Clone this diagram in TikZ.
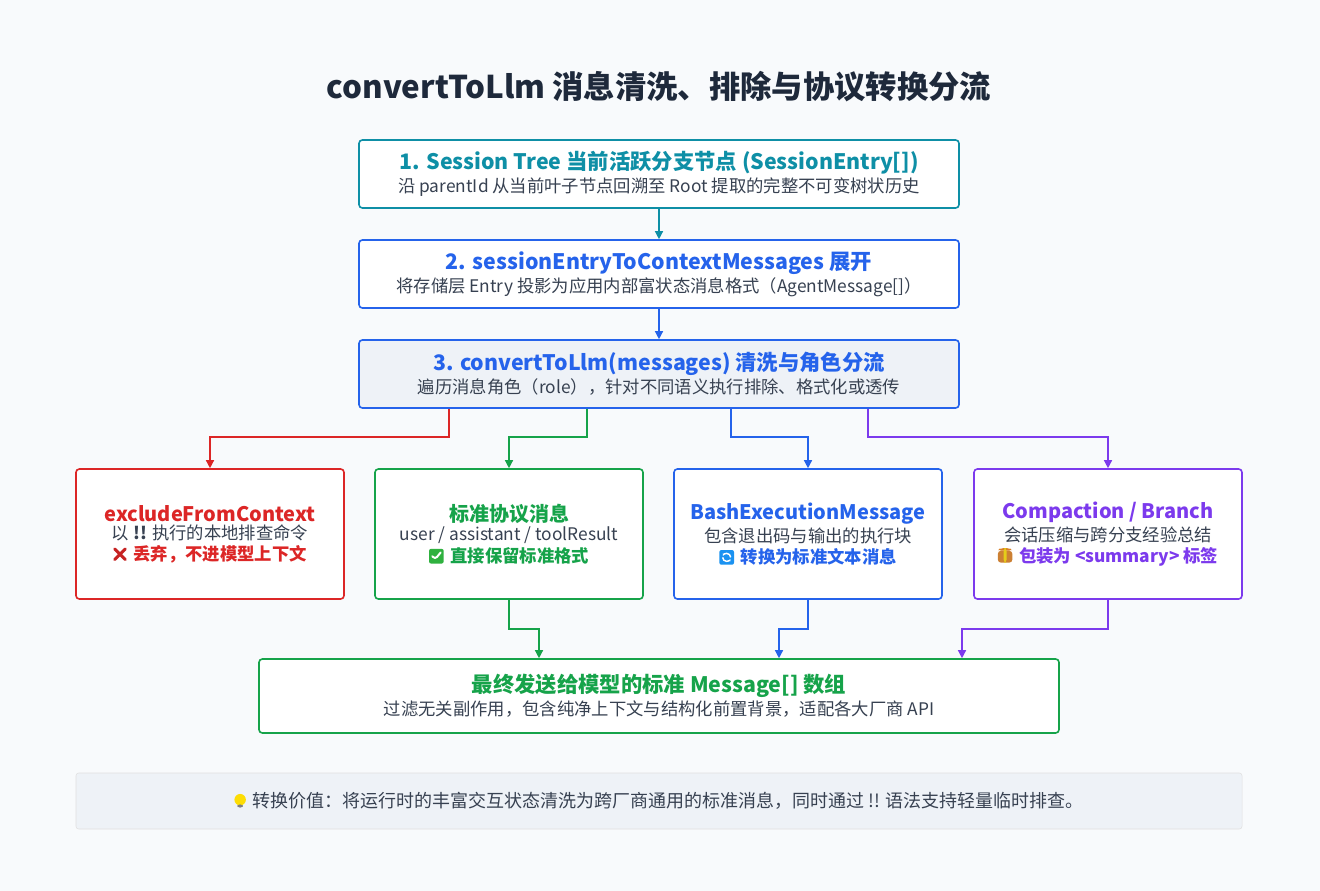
\documentclass[tikz,border=0pt]{standalone}
\usepackage{fontspec}
\setmainfont{Noto Sans CJK SC}
\usetikzlibrary{arrows.meta}
\definecolor{bg}{HTML}{F8FAFC}
\definecolor{teal}{HTML}{0E8FA6}
\definecolor{blu}{HTML}{2563EB}
\definecolor{red}{HTML}{DC2626}
\definecolor{grn}{HTML}{16A34A}
\definecolor{pur}{HTML}{7C3AED}
\definecolor{txt}{HTML}{374151}
\definecolor{ttl}{HTML}{1E293B}
\definecolor{pale}{HTML}{EEF2F7}
\newcommand{\crossicon}{\tikz[baseline=-4.5pt,x=1pt,y=1pt]{\draw[red!90!black,line width=2.2pt,line cap=round](-4,-4)--(4,4)(-4,4)--(4,-4);}\hspace{5pt}}
\newcommand{\checkicon}{\tikz[baseline=-4.5pt,x=1pt,y=1pt]{\fill[grn!85!lime,rounded corners=1.5pt](-5.5,-5.5) rectangle (5.5,5.5);\draw[white,line width=1.5pt,line cap=round,line join=round](-3,0)--(-1,-2.5)--(3.2,2.8);}\hspace{5pt}}
\newcommand{\cycleicon}{\tikz[baseline=-4.5pt,x=1pt,y=1pt]{\fill[blu!70!cyan,rounded corners=1.5pt](-5.5,-5.5) rectangle (5.5,5.5);\draw[white,line width=1.1pt,-{Stealth[length=2pt]}](3,0) arc (0:160:3);\draw[white,line width=1.1pt,-{Stealth[length=2pt]}](-3,0) arc (180:340:3);}\hspace{5pt}}
\newcommand{\boxicon}{\tikz[baseline=-4.5pt,x=1pt,y=1pt]{\fill[brown!80!orange](-5.5,-5) rectangle (5.5,4);\fill[brown!60!orange](-5.5,4)--(-3.5,6)--(3.5,6)--(5.5,4)--cycle;\fill[brown!40!yellow](-1.2,-5) rectangle (1.2,6);}\hspace{5pt}}
\newcommand{\bulbicon}{\tikz[baseline=-4.5pt,x=1pt,y=1pt]{\fill[yellow!80!orange](0,1.5) circle (4.3);\fill[gray](-2,-4.5) rectangle (2,-2);}\hspace{5pt}}
\begin{document}
\begin{tikzpicture}[x=0.75pt,y=-0.75pt,
 box/.style={draw=#1,line width=1.2pt,rounded corners=2.5pt,fill=white,align=center,inner sep=0pt},
 wide/.style={minimum width=450pt,minimum height=51pt},
 small/.style={minimum width=201pt,minimum height=97.5pt},
 arr/.style={draw=#1,line width=1pt,-{Triangle[length=6pt,width=6pt]}}]
\fill[bg] (0,0) rectangle (1320,891);
\useasboundingbox (0,0) rectangle (1320,891);
\node[font=\fontsize{23.5}{27}\selectfont\bfseries,text=ttl] (title) at (659,87) {convertToLlm 消息清洗、排除与协议转换分流};
\node[box=teal,wide] (b1) at (659,174) {\fontsize{16}{19}\selectfont\bfseries\color{teal}1. Session Tree 当前活跃分支节点 (SessionEntry[])\\[1.5pt]\fontsize{13}{15}\selectfont\mdseries\color{txt}沿 parentId 从当前叶子节点回溯至 Root 提取的完整不可变树状历史};
\node[box=blu,wide] (b2) at (659,274) {\fontsize{16}{19}\selectfont\bfseries\color{blu}2. sessionEntryToContextMessages 展开\\[1.5pt]\fontsize{13}{15}\selectfont\mdseries\color{txt}将存储层 Entry 投影为应用内部富状态消息格式（AgentMessage[]）};
\node[box=blu,wide,fill=pale] (b3) at (659,374) {\fontsize{16}{19}\selectfont\bfseries\color{blu}3. convertToLlm(messages) 清洗与角色分流\\[1.5pt]\fontsize{13}{15}\selectfont\mdseries\color{txt}遍历消息角色（role），针对不同语义执行排除、格式化或透传};
\node[box=red,small] (ba) at (210,534) {\fontsize{15}{18}\selectfont\bfseries\color{red}excludeFromContext\\[2pt]\fontsize{13}{15}\selectfont\mdseries\color{txt}以 \textbf{!!} 执行的本地排查命令\\[2pt]\fontsize{13}{15}\selectfont\bfseries\color{red}\crossicon 丢弃，不进模型上下文};
\node[box=grn,small] (bb) at (509,534) {\fontsize{15}{18}\selectfont\bfseries\color{grn}标准协议消息\\[2pt]\fontsize{13}{15}\selectfont\mdseries\color{txt}user / assistant / toolResult\\[2pt]\fontsize{13}{15}\selectfont\bfseries\color{grn}\checkicon 直接保留标准格式};
\node[box=blu,small] (bc) at (808,534) {\fontsize{15}{18}\selectfont\bfseries\color{blu}BashExecutionMessage\\[2pt]\fontsize{13}{15}\selectfont\mdseries\color{txt}包含退出码与输出的执行块\\[2pt]\fontsize{13}{15}\selectfont\bfseries\color{blu}\cycleicon 转换为标准文本消息};
\node[box=pur,small] (bd) at (1108,534) {\fontsize{15}{18}\selectfont\bfseries\color{pur}Compaction / Branch\\[2pt]\fontsize{13}{15}\selectfont\mdseries\color{txt}会话压缩与跨分支经验总结\\[2pt]\fontsize{13}{15}\selectfont\bfseries\color{pur}\boxicon 包装为 <summary> 标签};
\node[box=grn,minimum width=600pt,minimum height=55.5pt] (fin) at (659,696) {\fontsize{16}{19}\selectfont\bfseries\color{grn}最终发送给模型的标准 Message[] 数组\\[1.5pt]\fontsize{13}{15}\selectfont\mdseries\color{txt}过滤无关副作用，包含纯净上下文与结构化前置背景，适配各大厂商 API};
\node[draw=black!12,fill=pale,rounded corners=2pt,minimum width=874.5pt,minimum height=42pt,font=\fontsize{13.5}{16}\selectfont,text=txt] (foot) at (659,801) {\bulbicon 转换价值：将运行时的丰富交互状态清洗为跨厂商通用的标准消息，同时通过 !! 语法支持轻量临时排查。};
\draw[arr=teal] (b1.south) -- (b2.north);
\draw[arr=blu] (b2.south) -- (b3.north);
\draw[arr=red] (b3.south -| 449,0) |- (210,437) -- (ba.north);
\draw[arr=grn] (b3.south -| 587,0) |- (509,437) -- (bb.north);
\draw[arr=blu] (b3.south -| 731,0) |- (808,437) -- (bc.north);
\draw[arr=pur] (b3.south -| 868,0) |- (1108,437) -- (bd.north);
\draw[arr=grn] (bb.south) |- (539,629) -- (fin.north -| 539,0);
\draw[arr=blu] (bc.south) |- (779,629) -- (fin.north -| 779,0);
\draw[arr=pur] (bd.south) |- (962,629) -- (fin.north -| 962,0);
\end{tikzpicture}
\end{document}
